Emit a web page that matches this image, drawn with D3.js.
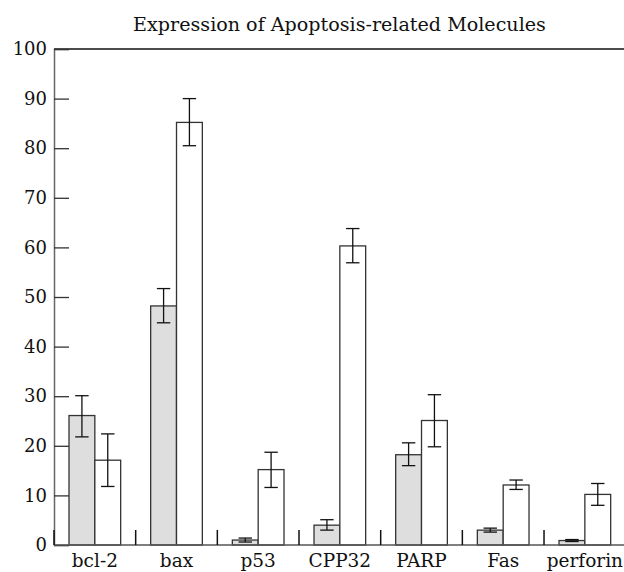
<html>
<head>
  <meta charset="UTF-8">
  <script src="https://d3js.org/d3.v7.min.js"></script>
  <style>
    body { margin: 0; background: white; }
    text { font-family: "DejaVu Serif", serif; fill: #111; }
  </style>
</head>
<body>
  <svg id="chart" width="624" height="572"></svg>
  <script>
    // data
    const molecules = ["bcl-2", "bax", "p53", "CPP32", "PARP", "Fas", "perforin"];
    const groups = ["grey", "white"];
    const greyValues = [26.1, 48.2, 1.0, 4.0, 18.2, 3.0, 0.9];
    const greyLow = [21.8, 44.8, 0.6, 3.0, 16.0, 2.6, 0.7];
    const greyHigh = [30.1, 51.7, 1.4, 5.1, 20.6, 3.4, 1.1];
    const whiteValues = [17.1, 85.2, 15.2, 60.3, 25.1, 12.1, 10.2];
    const whiteLow = [11.8, 80.5, 11.6, 56.9, 19.8, 11.2, 8.0];
    const whiteHigh = [22.4, 90.0, 18.7, 63.8, 30.3, 13.1, 12.4];
    const yTicks = [0, 10, 20, 30, 40, 50, 60, 70, 80, 90, 100];
    const title = "Expression of Apoptosis-related Molecules";

    const svg = d3.select("svg#chart");

    // plot area
    const plotLeft = 54, plotTop = 49, plotBottom = 545;
    const catWidth = 81.67;

    const x = d3.scaleBand().domain(molecules)
      .range([plotLeft, plotLeft + catWidth * molecules.length]);
    const xSub = d3.scaleBand().domain(groups)
      .range([15, x.bandwidth() - 15]);
    const y = d3.scaleLinear().domain([0, 100]).range([plotBottom, plotTop]);

    // build one row per bar
    let bars = [];
    molecules.forEach((m, i) => {
      bars.push({ mol: m, grp: "grey", v: greyValues[i], lo: greyLow[i], hi: greyHigh[i] });
      bars.push({ mol: m, grp: "white", v: whiteValues[i], lo: whiteLow[i], hi: whiteHigh[i] });
    });
    const fillScale = d3.scaleOrdinal().domain(groups).range(["#dedede", "white"]);

    // top frame line
    svg.append("line")
      .attr("x1", plotLeft).attr("x2", 624)
      .attr("y1", y(100)).attr("y2", y(100))
      .attr("stroke", "#111").attr("stroke-width", 1.3);

    // bars
    const barCenter = d => x(d.mol) + xSub(d.grp) + xSub.bandwidth() / 2;
    svg.selectAll("rect.bar").data(bars)
      .join("rect").attr("class", "bar")
      .attr("x", d => x(d.mol) + xSub(d.grp))
      .attr("y", d => y(d.v))
      .attr("width", xSub.bandwidth())
      .attr("height", d => y(0) - y(d.v))
      .attr("fill", d => fillScale(d.grp))
      .attr("stroke", "#333")
      .attr("stroke-width", 1.3);

    // error bars
    const err = svg.append("g").attr("stroke", "#111").attr("stroke-width", 1.3);
    err.selectAll("line.stem").data(bars)
      .join("line").attr("class", "stem")
      .attr("x1", barCenter).attr("x2", barCenter)
      .attr("y1", d => y(d.lo)).attr("y2", d => y(d.hi));
    err.selectAll("line.capHi").data(bars)
      .join("line").attr("class", "capHi")
      .attr("x1", d => barCenter(d) - 6.7).attr("x2", d => barCenter(d) + 6.7)
      .attr("y1", d => y(d.hi)).attr("y2", d => y(d.hi));
    err.selectAll("line.capLo").data(bars)
      .join("line").attr("class", "capLo")
      .attr("x1", d => barCenter(d) - 6.7).attr("x2", d => barCenter(d) + 6.7)
      .attr("y1", d => y(d.lo)).attr("y2", d => y(d.lo));

    // y axis with inward ticks
    const leftAxis = d3.axisLeft(y).tickValues(yTicks).tickSize(-15).tickPadding(7);
    const yAxisG = svg.append("g").attr("transform", `translate(${plotLeft},0)`).call(leftAxis);
    yAxisG.select(".domain").attr("stroke", "#666").attr("stroke-width", 1.5);
    yAxisG.selectAll(".tick line").attr("stroke", "#333").attr("stroke-width", 1.3);
    yAxisG.selectAll("text").attr("font-size", 18).attr("font-family", "DejaVu Serif").attr("fill", "#111");

    // x axis: baseline and separators between categories
    const bottomAxis = d3.axisBottom(x).tickSize(0).tickPadding(9);
    const xAxisG = svg.append("g").attr("transform", `translate(0,${plotBottom})`).call(bottomAxis);
    xAxisG.select(".domain").remove();
    xAxisG.selectAll("text").attr("font-size", 18.5).attr("font-family", "DejaVu Serif").attr("fill", "#111");
    svg.append("line")
      .attr("x1", plotLeft).attr("x2", 624)
      .attr("y1", plotBottom).attr("y2", plotBottom)
      .attr("stroke", "#555").attr("stroke-width", 1.5);
    svg.selectAll("line.sep").data(molecules)
      .join("line").attr("class", "sep")
      .attr("x1", d => x(d)).attr("x2", d => x(d))
      .attr("y1", plotBottom).attr("y2", plotBottom - 15)
      .attr("stroke", "#111").attr("stroke-width", 1.5);

    // title, scaled to the width seen in the figure
    const t = svg.append("text")
      .attr("x", 339.5).attr("y", 31)
      .attr("text-anchor", "middle")
      .attr("font-size", 18)
      .text(title);
    const w = t.node().getComputedTextLength();
    t.attr("font-size", 18 * 413 / w);
  </script>
</body>
</html>
